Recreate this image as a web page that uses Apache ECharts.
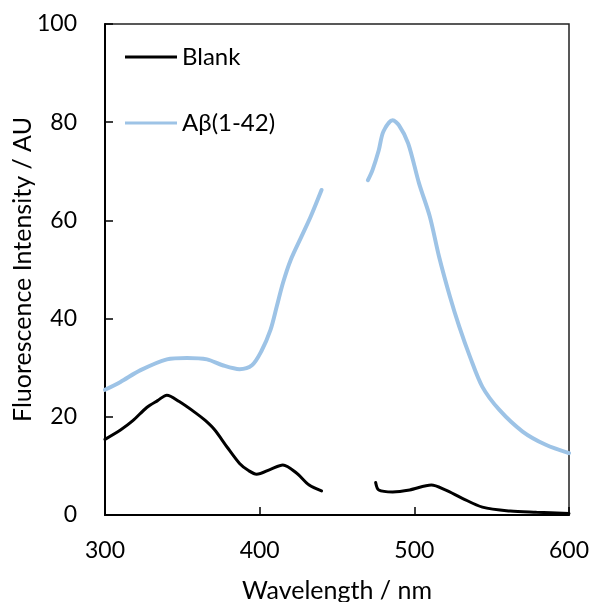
<!DOCTYPE html>
<html>
<head>
<meta charset="utf-8">
<script src="https://cdn.jsdelivr.net/npm/echarts@6/dist/echarts.min.js"></script>
<style>
html,body{margin:0;padding:0;background:#fff;}
#chart{width:592px;height:602px;}
</style>
</head>
<body>
<div id="chart"></div>
<script>
var seriesNames = ['Blank', 'Aβ(1-42)'];
var blankWl  = [300, 310, 318, 327, 334, 340, 348, 359, 365, 371, 379, 387, 393, 398, 407, 415, 424, 432, 440, 457, 475, 477, 486, 497, 511, 520, 531, 544, 562, 579, 600];
var blankVal = [15.4, 17.3, 19.2, 21.9, 23.3, 24.4, 23.1, 20.7, 19.2, 17.3, 13.8, 10.5, 9.0, 8.3, 9.3, 10.2, 8.5, 6.1, 4.9, null, 6.6, 5.1, 4.7, 5.1, 6.1, 5.1, 3.4, 1.6, 0.8, 0.55, 0.3];
var abWl  = [300, 310, 323, 340, 353, 366, 376, 387, 395, 401, 407, 411, 415, 420, 427, 433, 440, 455, 470, 473, 477, 480, 486, 490, 496, 503, 510, 516, 523, 529, 536, 544, 555, 570, 585, 600];
var abVal = [25.5, 27.1, 29.5, 31.7, 32.0, 31.7, 30.5, 29.7, 30.5, 33.3, 37.7, 42.4, 47.2, 51.9, 56.7, 60.8, 66.2, null, 68.2, 70.3, 74.3, 78.1, 80.4, 79.4, 75.7, 67.6, 60.8, 52.6, 44.5, 38.4, 32.2, 26.1, 21.4, 17.0, 14.3, 12.6];
var xTicks = [300, 400, 500, 600];
var yTicks = [0, 20, 40, 60, 80, 100];

function pairs(xs, ys) {
  return xs.map(function (x, i) { return [x, ys[i] === null ? '-' : ys[i]]; });
}

var font = 'Lato, "Open Sans", sans-serif';
var chart = echarts.init(document.getElementById('chart'), null, {renderer: 'canvas'});
chart.setOption({
  animation: false,
  backgroundColor: '#fff',
  textStyle: {fontFamily: font, color: '#000'},
  grid: {left: 105, right: 23, top: 24, bottom: 87, show: true, borderColor: '#222', borderWidth: 1.5, containLabel: false, outerBoundsMode: 'none'},
  legend: {
    orient: 'vertical', left: 120, top: 40, itemWidth: 52, itemHeight: 3, itemGap: 42,
    icon: 'rect',
    data: seriesNames,
    textStyle: {fontFamily: font, fontSize: 24, color: '#000'}
  },
  xAxis: {
    type: 'value', min: xTicks[0], max: xTicks[xTicks.length - 1], interval: 100,
    name: 'Wavelength / nm', nameLocation: 'middle', nameGap: 63, nameMoveOverlap: false,
    nameTextStyle: {fontFamily: font, fontSize: 25, color: '#000'},
    axisLine: {lineStyle: {color: '#000', width: 2}},
    axisTick: {inside: true, length: 8, lineStyle: {color: '#000', width: 1.5}},
    axisLabel: {margin: 24, fontFamily: font, fontSize: 23, color: '#000'},
    splitLine: {show: false}
  },
  yAxis: {
    type: 'value', min: yTicks[0], max: yTicks[yTicks.length - 1], interval: 20,
    name: 'Fluorescence Intensity / AU', nameLocation: 'middle', nameGap: 70, nameMoveOverlap: false,
    nameTextStyle: {fontFamily: font, fontSize: 25, color: '#000'},
    axisLine: {show: true, lineStyle: {color: '#000', width: 2}},
    axisTick: {show: true, inside: true, length: 8, lineStyle: {color: '#000', width: 1.5}},
    axisLabel: {margin: 28, fontFamily: font, fontSize: 23, color: '#000'},
    splitLine: {show: false}
  },
  series: [
    {
      name: seriesNames[0], type: 'line', data: pairs(blankWl, blankVal),
      smooth: 0.3, showSymbol: false, symbol: 'none', connectNulls: false,
      lineStyle: {color: '#000', width: 3, cap: 'round'}, itemStyle: {color: '#000'}
    },
    {
      name: seriesNames[1], type: 'line', data: pairs(abWl, abVal),
      smooth: 0.3, showSymbol: false, symbol: 'none', connectNulls: false,
      lineStyle: {color: '#9DC3E6', width: 4, cap: 'round'}, itemStyle: {color: '#9DC3E6'}
    }
  ]
});
</script>
</body>
</html>
